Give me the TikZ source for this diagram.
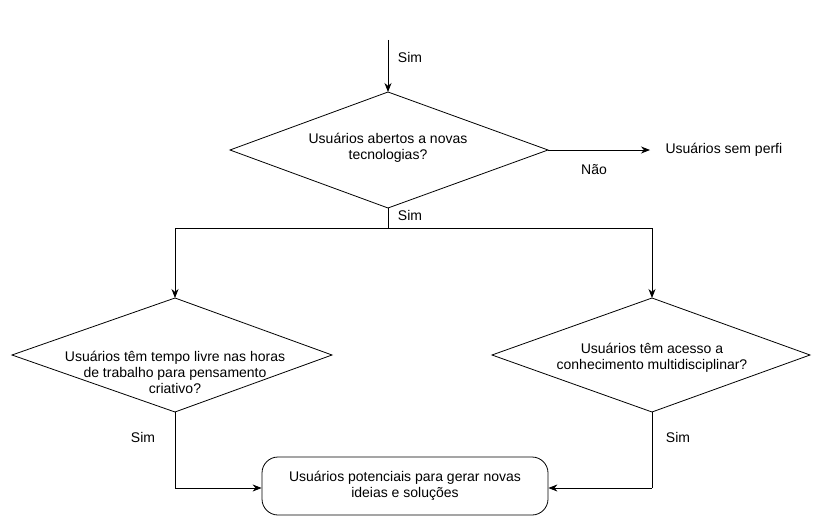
\documentclass[tikz,border=0pt]{standalone}
\usepackage{fontspec}
\setmainfont{Liberation Sans}
\usetikzlibrary{positioning,arrows.meta}
\begin{document}
\begin{tikzpicture}[x=1pt,y=-1pt,
  every node/.style={font=\fontsize{14}{16}\selectfont, align=center},
  line/.style={thick},
  arr/.style={thick,-{Stealth[length=9pt,width=7pt]}},
  term/.style={draw,thick,rounded corners=16pt,minimum width=286pt,minimum height=58pt}]
\useasboundingbox (0,0) rectangle (820,527);

% Diamond vertices
\coordinate (AT) at (388,92);  \coordinate (AB) at (388,208);
\coordinate (AL) at (230,150); \coordinate (AR) at (548,150);
\coordinate (BT) at (175,298); \coordinate (BB) at (175,412);
\coordinate (BL) at (12,355);  \coordinate (BR) at (332,355);
\coordinate (CT) at (652,298); \coordinate (CB) at (652,412);
\coordinate (CL) at (492,355); \coordinate (CR) at (810,355);

% Diamonds
\draw[line] (AT) -- (AR) -- (AB) -- (AL) -- cycle;
\draw[line] (BT) -- (BR) -- (BB) -- (BL) -- cycle;
\draw[line] (CT) -- (CR) -- (CB) -- (CL) -- cycle;
\node (qa) at (388,148) {Usuários abertos a novas\\tecnologias?};
\node (qb) at (175,372) {Usuários têm tempo livre nas horas\\de trabalho para pensamento\\criativo?};
\node (qc) at (652,358) {Usuários têm acesso a\\conhecimento multidisciplinar?};

% Terminal and free ends
\node[term] (res) at (405,486) {Usuários potenciais para gerar novas\\ideias e soluções};
\coordinate (top) at (388,40);
\coordinate (nao) at (650,150);
\node[right=12pt of nao] (sp) {Usuários sem perfi};
\coordinate (split) at (388,228);
\coordinate (sl) at (175,228);
\coordinate (sr) at (652,228);
\coordinate (jl) at (175,488);
\coordinate (jr) at (652,488);

% Connectors
\draw[arr] (top) -- (AT);
\draw[arr] (AR) -- (nao);
\draw[line] (AB) -- (split);
\draw[line] (sl) -- (sr);
\draw[arr] (sl) -- (BT);
\draw[arr] (sr) -- (CT);
\draw[line] (BB) -- (jl);
\draw[arr] (jl) -- (res.west |- jl);
\draw[line] (CB) -- (jr);
\draw[arr] (jr) -- (res.east |- jr);

% Labels
\node at (410,57) {Sim};
\node at (594,170) {Não};
\node at (410,215) {Sim};
\node at (143,437) {Sim};
\node at (678,437) {Sim};
\end{tikzpicture}
\end{document}
